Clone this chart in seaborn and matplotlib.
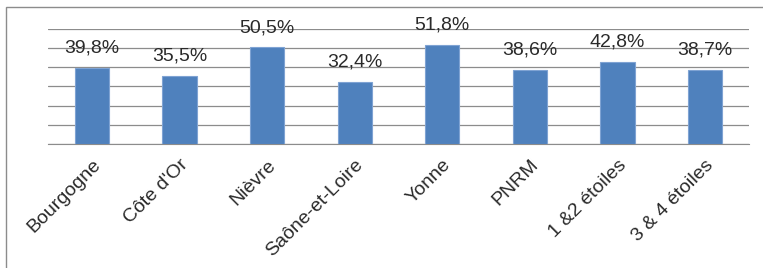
import matplotlib
matplotlib.use("Agg")
import matplotlib.pyplot as plt
import seaborn as sns
import pandas as pd
from matplotlib.patches import Rectangle

categories = ["Bourgogne", "Côte d'Or", "Nièvre", "Saône-et-Loire",
              "Yonne", "PNRM", "1 &2 étoiles", "3 & 4 étoiles"]
values = [39.8, 35.5, 50.5, 32.4, 51.8, 38.6, 42.8, 38.7]

df = pd.DataFrame({"cat": categories, "val": values})

sns.set_style("white")
plt.rcParams["font.family"] = ["Liberation Sans", "DejaVu Sans"]

fig = plt.figure(figsize=(7.63, 2.68), dpi=100)
# outer chart frame
fig.patches.append(Rectangle((6 / 763, -0.05), 1.0, (268 - 7) / 268 + 0.05,
                             transform=fig.transFigure, fill=False,
                             edgecolor="#8c8c8c", linewidth=1.0))

ax = fig.add_axes([48 / 763, (268 - 144) / 268, 701 / 763, 115 / 268])
sns.barplot(data=df, x="cat", y="val", color="#4f81bd", width=0.39,
            saturation=1, edgecolor="#7fa3d3", linewidth=0.8, ax=ax, zorder=3)

ax.set_ylim(0, 60)
ax.set_xlim(-0.5, len(categories) - 0.5)
ax.set_yticks(range(0, 61, 10))
ax.yaxis.grid(True, color="#8c8c8c", linewidth=0.9, zorder=0)
ax.set_yticklabels([])
ax.tick_params(axis="y", length=0)
for s in ["top", "right", "left"]:
    ax.spines[s].set_visible(False)
ax.spines["bottom"].set_color("#8c8c8c")

# tick marks between categories
ax.set_xticks([i - 0.5 for i in range(len(categories) + 1)], minor=True)
ax.tick_params(axis="x", which="minor", length=5, color="#8c8c8c", width=0.9)
ax.tick_params(axis="x", which="major", length=0, pad=9)
ax.set_xticks(range(len(categories)))
ax.set_xticklabels(categories, rotation=45, ha="right", rotation_mode="anchor",
                   fontsize=14, color="#2a2a2a")
ax.set_xlabel("")
ax.set_ylabel("")

for i, v in enumerate(values):
    ax.annotate(f"{v:.1f}%".replace(".", ","), (i, v), xytext=(0, 8),
                textcoords="offset points", ha="center", va="bottom",
                fontsize=14, color="#2a2a2a")

fig.savefig("out.png", dpi=100)
